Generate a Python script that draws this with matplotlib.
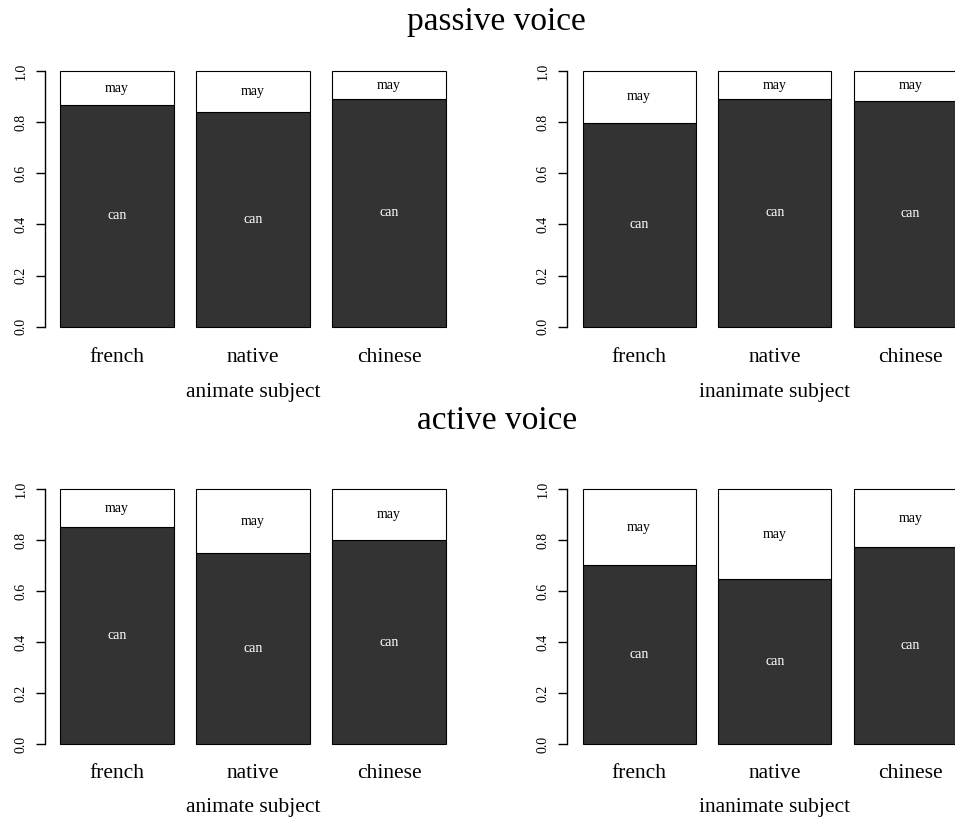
import matplotlib
matplotlib.use("Agg")
import matplotlib.pyplot as plt
import numpy as np

plt.rcParams['font.family'] = ['Liberation Serif', 'DejaVu Serif']

# ---- data ----
groups = ["french", "native", "chinese"]
panel_titles = ["passive voice", "active voice"]
subjects = ["animate subject", "inanimate subject"]
# proportion of "can" (remaining is "may")
can_passive_animate = [0.867, 0.838, 0.890]
can_passive_inanimate = [0.798, 0.890, 0.884]
can_active_animate = [0.852, 0.750, 0.802]
can_active_inanimate = [0.704, 0.647, 0.773]
ytick_vals = [0.0, 0.2, 0.4, 0.6, 0.8, 1.0]

W, H, DPI = 955, 818, 100
fig = plt.figure(figsize=(W / DPI, H / DPI), dpi=DPI)

def fx(px):
    return px / W

def fy(py):
    return 1 - py / H

# layout in pixels: (left, right, top, bottom)
panels = [
    (44.9, 461.3, 60.8, 336.9, can_passive_animate, subjects[0]),
    (567.3, 982.2, 60.8, 336.9, can_passive_inanimate, subjects[1]),
    (44.9, 461.3, 479.1, 754.5, can_active_animate, subjects[0]),
    (567.3, 982.2, 479.1, 754.5, can_active_inanimate, subjects[1]),
]
cat_base = {336.9: 361.5, 754.5: 778.0}
subj_base = {336.9: 397.5, 754.5: 812.0}

centers = np.array([0.7, 1.9, 3.1])
for (l, r, t, b, can, subj) in panels:
    ax = fig.add_axes([fx(l), fy(b), (r - l) / W, (b - t) / H])
    can = np.array(can)
    may = 1 - can
    ax.bar(centers, can, width=1.0, color="#333333", edgecolor="black", linewidth=0.8)
    ax.bar(centers, may, bottom=can, width=1.0, color="white", edgecolor="black", linewidth=0.8)
    for xc, c, m in zip(centers, can, may):
        ax.text(xc, c / 2, "can", ha="center", va="center", color="white", fontsize=10)
        ax.text(xc, c + m / 2, "may", ha="center", va="center", color="black", fontsize=10)
    ax.set_xlim(0.064, 3.736)
    ax.set_ylim(-0.04, 1.04)
    for s in ["top", "right", "bottom"]:
        ax.spines[s].set_visible(False)
    ax.spines["left"].set_bounds(0, 1)
    ax.spines["left"].set_linewidth(1.0)
    ax.set_yticks(ytick_vals)
    ax.set_yticklabels([f"{v:.1f}" for v in ytick_vals], rotation=90, va="center", fontsize=10)
    ax.tick_params(axis="y", length=6.5, width=1.0, pad=6)
    ax.set_xticks([])
    ax.patch.set_visible(False)
    # category labels
    for xc, g in zip(centers, groups):
        xpx = l + (xc - 0.064) / (3.736 - 0.064) * (r - l)
        fig.text(fx(xpx), fy(cat_base[b]), g, ha="center", va="baseline", fontsize=15.5)
    fig.text(fx((l + r) / 2), fy(subj_base[b]), subj, ha="center", va="baseline", fontsize=15.5)

fig.text(fx(496.7), fy(30.0), panel_titles[0], ha="center", va="baseline", fontsize=24)
fig.text(fx(496.7), fy(429.3), panel_titles[1], ha="center", va="baseline", fontsize=24)

fig.savefig("out.png", dpi=DPI)
